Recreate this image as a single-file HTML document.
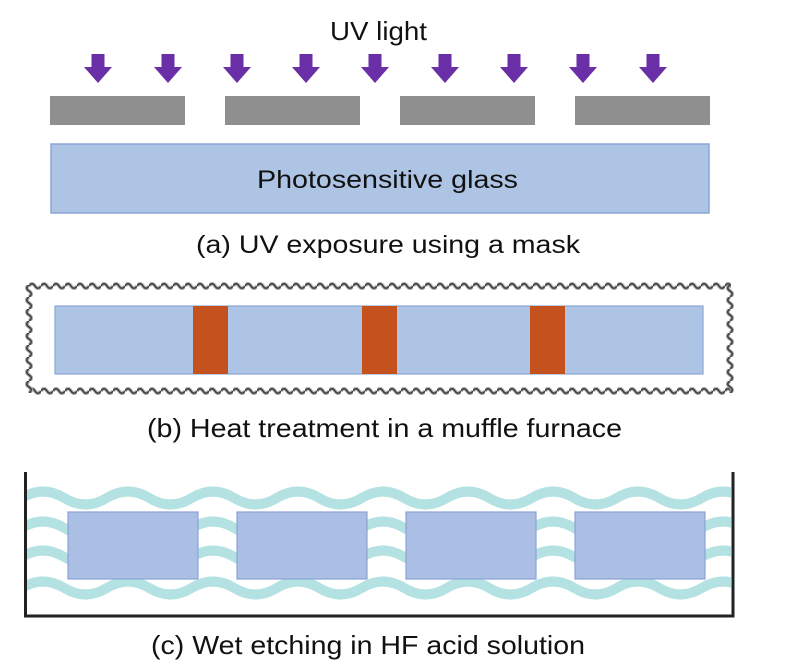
<!DOCTYPE html>
<html>
<head>
<meta charset="utf-8">
<style>
  html, body { margin: 0; padding: 0; background: #ffffff; }
  svg { display: block; }
  text { font-family: "Liberation Sans", Arial, sans-serif; fill: #111; }
</style>
</head>
<body>
<svg width="800" height="668" viewBox="0 0 800 668" xmlns="http://www.w3.org/2000/svg">
  <defs>
    <pattern id="hw" patternUnits="userSpaceOnUse" x="0" y="0" width="12" height="10">
      <path d="M0,5 Q3,0.5 6,5 T12,5" fill="none" stroke="#a8a8a8" stroke-width="3.6"/>
      <path d="M0,5 Q3,0.5 6,5 T12,5" fill="none" stroke="#3c3c3c" stroke-width="1.5"/>
    </pattern>
    <pattern id="vw" patternUnits="userSpaceOnUse" x="0" y="0" width="10" height="12">
      <path d="M5,0 Q0.5,3 5,6 T5,12" fill="none" stroke="#a8a8a8" stroke-width="3.6"/>
      <path d="M5,0 Q0.5,3 5,6 T5,12" fill="none" stroke="#3c3c3c" stroke-width="1.5"/>
    </pattern>
    <clipPath id="tank">
      <rect x="27" y="470" width="704" height="145"/>
    </clipPath>
    <path id="wave" d="M-20.75,0 q21.25,13 42.5,0 t42.5,0 t42.5,0 t42.5,0 t42.5,0 t42.5,0 t42.5,0 t42.5,0 t42.5,0 t42.5,0 t42.5,0 t42.5,0 t42.5,0 t42.5,0 t42.5,0 t42.5,0 t42.5,0 t42.5,0 t42.5,0 t42.5,0"/>
  </defs>

  <rect x="0" y="0" width="800" height="668" fill="#ffffff"/>

  <!-- ===== (a) UV exposure ===== -->
  <text x="330" y="40" font-size="26" textLength="97" lengthAdjust="spacingAndGlyphs">UV light</text>

  <g fill="#6a2ea6">
    <path d="M91.5,54 h13 v13 h7.5 l-14,16 l-14,-16 h7.5 z"/>
    <path transform="translate(70,0)" d="M91.5,54 h13 v13 h7.5 l-14,16 l-14,-16 h7.5 z"/>
    <path transform="translate(139,0)" d="M91.5,54 h13 v13 h7.5 l-14,16 l-14,-16 h7.5 z"/>
    <path transform="translate(208,0)" d="M91.5,54 h13 v13 h7.5 l-14,16 l-14,-16 h7.5 z"/>
    <path transform="translate(277,0)" d="M91.5,54 h13 v13 h7.5 l-14,16 l-14,-16 h7.5 z"/>
    <path transform="translate(347,0)" d="M91.5,54 h13 v13 h7.5 l-14,16 l-14,-16 h7.5 z"/>
    <path transform="translate(416,0)" d="M91.5,54 h13 v13 h7.5 l-14,16 l-14,-16 h7.5 z"/>
    <path transform="translate(485,0)" d="M91.5,54 h13 v13 h7.5 l-14,16 l-14,-16 h7.5 z"/>
    <path transform="translate(555,0)" d="M91.5,54 h13 v13 h7.5 l-14,16 l-14,-16 h7.5 z"/>
  </g>

  <g fill="#8f8f8f">
    <rect x="50" y="96" width="135" height="29"/>
    <rect x="225" y="96" width="135" height="29"/>
    <rect x="400" y="96" width="135" height="29"/>
    <rect x="575" y="96" width="135" height="29"/>
  </g>

  <rect x="51" y="144" width="658" height="69" fill="#aec4e4" stroke="#8aa6d6" stroke-width="1.5"/>
  <text x="257" y="188" font-size="25" textLength="261" lengthAdjust="spacingAndGlyphs">Photosensitive glass</text>

  <text x="196" y="253" font-size="25" textLength="384" lengthAdjust="spacingAndGlyphs">(a) UV exposure using a mask</text>

  <!-- ===== (b) Heat treatment ===== -->
  <rect x="0" y="0" width="702" height="10" fill="url(#hw)" transform="translate(29,281)"/>
  <rect x="0" y="0" width="702" height="10" fill="url(#hw)" transform="translate(29,386)"/>
  <rect x="0" y="0" width="10" height="108" fill="url(#vw)" transform="translate(24,285)"/>
  <rect x="0" y="0" width="10" height="108" fill="url(#vw)" transform="translate(725,285)"/>

  <rect x="55" y="306" width="648" height="68" fill="#aec4e4" stroke="#8aa6d6" stroke-width="1.2"/>
  <g fill="#c4511e">
    <rect x="193" y="306" width="35" height="68"/>
    <rect x="362" y="306" width="35" height="68"/>
    <rect x="530" y="306" width="35" height="68"/>
  </g>

  <text x="147" y="437" font-size="26" textLength="475" lengthAdjust="spacingAndGlyphs">(b) Heat treatment in a muffle furnace</text>

  <!-- ===== (c) Wet etching ===== -->
  <g clip-path="url(#tank)" fill="none" stroke="#b4e1e1" stroke-width="10">
    <use href="#wave" transform="translate(0,498)"/>
    <use href="#wave" transform="translate(0,528)"/>
    <use href="#wave" transform="translate(0,557)"/>
    <use href="#wave" transform="translate(0,588)"/>
  </g>

  <g fill="#aabfe3" stroke="#8aa4d6" stroke-width="1.2">
    <rect x="68" y="512" width="130" height="67"/>
    <rect x="237" y="512" width="130" height="67"/>
    <rect x="406" y="512" width="130" height="67"/>
    <rect x="575" y="512" width="130" height="67"/>
  </g>

  <path d="M25.5,472 V616 H733 V472" fill="none" stroke="#222" stroke-width="3"/>

  <text x="151" y="654" font-size="26" textLength="434" lengthAdjust="spacingAndGlyphs">(c) Wet etching in HF acid solution</text>
</svg>
</body>
</html>
